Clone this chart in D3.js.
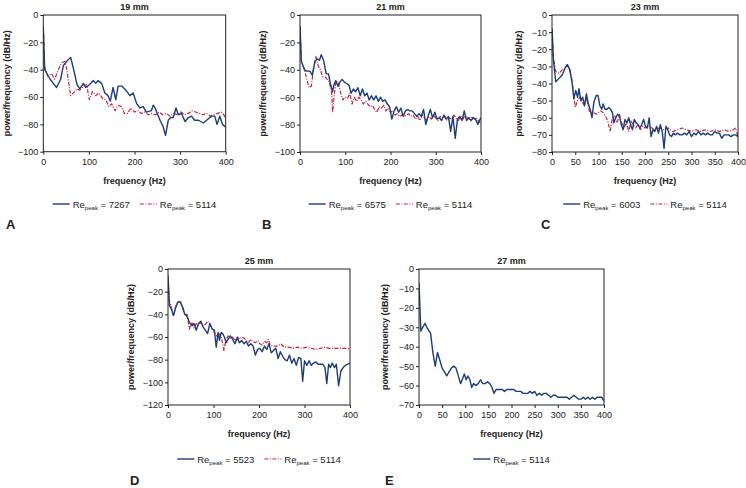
<!DOCTYPE html>
<html lang="en">
<head>
<meta charset="UTF-8">
<title>Power spectra by position</title>
<style>
    body { margin: 0; background: #fff; }
    svg text { font-family: "Liberation Sans", Arial, sans-serif; fill: #222; }
    .tick text { font-size: 9px; }
    .tick line { stroke: #222; }
    .title, .xlabel, .ylabel { font-size: 9px; font-weight: bold; }
    .letter { font-size: 13px; font-weight: bold; }
    .legend text { font-size: 9.5px; }
</style>
</head>
<body>
<div id="chart"></div>
<script src="https://d3js.org/d3.v7.min.js"></script>
<script>
// [frequency Hz, dB/Hz]
const re7267 = [[0,-9],[3,-40],[15,-47],[22,-50],[29,-53],[38,-47],[44,-37],[51,-34],[60,-31],[66,-39],[74,-51],[80,-54],[88,-50],[93,-53],[101,-51],[110,-48],[115,-50],[120,-48],[128,-50],[135,-57],[142,-59],[147,-63],[153,-53],[159,-62],[164,-52],[172,-52],[181,-55],[190,-59],[197,-57],[205,-65],[212,-68],[219,-67],[226,-71],[237,-70],[241,-66],[245,-68],[250,-72],[256,-77],[262,-81],[268,-88],[274,-77],[280,-75],[285,-75],[291,-68],[296,-73],[303,-72],[311,-78],[318,-75],[325,-74],[332,-77],[340,-77],[351,-79],[358,-77],[369,-74],[376,-74],[381,-80],[387,-74],[393,-80],[400,-82]];
const refA = [[0,-8],[3,-38],[10,-45],[18,-43],[25,-47],[33,-40],[40,-35],[47,-34],[51,-39],[60,-59],[66,-57],[74,-54],[80,-55],[88,-52],[95,-51],[101,-62],[108,-56],[115,-59],[122,-57],[130,-61],[137,-62],[144,-67],[150,-65],[157,-70],[164,-66],[171,-67],[178,-72],[185,-72],[192,-68],[200,-71],[208,-70],[215,-72],[222,-71],[230,-73],[238,-72],[246,-73],[254,-71],[262,-73],[270,-72],[278,-74],[286,-72],[294,-73],[302,-71],[310,-73],[318,-72],[326,-70],[334,-71],[342,-72],[350,-73],[358,-72],[366,-74],[374,-73],[382,-72],[390,-71],[396,-73],[400,-76]];

const re6575 = [[0,-8.5],[3,-34],[10,-40],[15,-41],[22,-41],[27,-44],[33,-34],[38,-32],[43,-33],[47,-29],[52,-33],[58,-43],[63,-43],[67,-50],[72,-56],[75,-51],[79,-48],[84,-52],[88,-49],[93,-47],[98,-49],[103,-50],[108,-51],[113,-57],[118,-54],[123,-56],[128,-53],[133,-59],[138,-54],[143,-59],[148,-57],[153,-62],[158,-59],[163,-62],[168,-59],[173,-63],[178,-60],[183,-63],[188,-62],[193,-65],[198,-67],[203,-76],[208,-70],[213,-67],[218,-71],[223,-68],[228,-74],[233,-70],[238,-69],[243,-70],[248,-70],[253,-72],[258,-74],[263,-72],[268,-74],[273,-69],[278,-80],[283,-74],[288,-69],[293,-75],[298,-71],[303,-76],[308,-75],[313,-77],[318,-73],[323,-76],[328,-74],[333,-85],[338,-74],[343,-90],[348,-76],[353,-74],[358,-77],[363,-70],[368,-77],[373,-75],[378,-77],[383,-75],[388,-76],[393,-80],[398,-76],[400,-75]];
const refB = [[0,-8],[3,-33],[10,-40],[15,-47],[20,-53],[25,-52],[30,-39],[35,-30],[40,-37],[45,-40],[50,-45],[55,-45],[60,-47],[65,-49],[70,-57],[72,-71],[76,-57],[80,-48],[85,-50],[90,-57],[95,-62],[100,-60],[105,-61],[110,-57],[115,-65],[120,-60],[125,-63],[130,-60],[135,-62],[140,-65],[145,-63],[150,-65],[155,-67],[160,-66],[165,-69],[170,-71],[175,-67],[180,-68],[185,-66],[190,-70],[195,-68],[200,-71],[205,-70],[210,-73],[215,-72],[220,-74],[225,-73],[230,-74],[235,-73],[240,-72],[245,-74],[250,-73],[255,-76],[260,-74],[265,-77],[270,-73],[275,-75],[280,-77],[285,-74],[290,-76],[295,-73],[300,-75],[305,-77],[310,-74],[315,-76],[320,-74],[325,-77],[330,-75],[335,-76],[340,-73],[345,-75],[350,-77],[355,-74],[360,-76],[365,-73],[370,-75],[375,-76],[380,-74],[385,-76],[390,-75],[395,-78],[400,-79]];

const re6003 = [[0,-8],[3,-26],[8,-39],[15,-37],[22,-35],[28,-31],[33,-29],[38,-32],[43,-39],[47,-49],[51,-44],[55,-48],[58,-43],[62,-50],[66,-48],[70,-53],[74,-46],[78,-52],[82,-55],[86,-60],[90,-51],[95,-47],[99,-47],[103,-53],[107,-55],[110,-52],[114,-55],[118,-55],[122,-54],[126,-55],[130,-57],[133,-63],[137,-60],[141,-58],[145,-59],[149,-64],[153,-67],[157,-61],[161,-63],[165,-60],[169,-64],[173,-67],[177,-61],[181,-63],[185,-64],[189,-66],[193,-64],[197,-61],[201,-65],[205,-66],[209,-60],[213,-71],[217,-67],[221,-68],[225,-65],[229,-69],[233,-64],[237,-68],[241,-78],[245,-65],[249,-67],[253,-70],[257,-71],[261,-69],[265,-70],[270,-69],[275,-70],[280,-70],[285,-69],[290,-70],[295,-68],[300,-71],[305,-69],[310,-70],[315,-68],[320,-70],[325,-69],[330,-70],[335,-69],[340,-70],[345,-70],[350,-68],[355,-69],[360,-69],[365,-72],[370,-70],[375,-70],[380,-70],[385,-71],[390,-70],[395,-70],[400,-71]];
const refC = [[0,-8],[3,-25],[8,-33],[15,-34],[22,-32],[28,-31],[33,-29],[38,-31],[42,-36],[46,-45],[50,-54],[55,-50],[60,-48],[65,-51],[70,-53],[75,-48],[80,-56],[85,-57],[90,-57],[95,-58],[100,-57],[105,-56],[110,-57],[115,-59],[120,-62],[125,-68],[130,-60],[135,-59],[140,-63],[145,-58],[150,-63],[155,-66],[160,-63],[165,-68],[170,-62],[175,-64],[180,-66],[185,-64],[190,-67],[195,-65],[200,-66],[210,-65],[220,-67],[230,-66],[240,-67],[250,-66],[260,-68],[270,-67],[280,-66],[290,-67],[300,-68],[310,-67],[320,-68],[330,-67],[340,-68],[350,-67],[360,-68],[370,-67],[380,-68],[390,-67],[395,-66],[400,-71]];

const re5523 = [[0,-7],[3,-32],[7,-35],[12,-41],[17,-34],[22,-29],[27,-29],[32,-34],[37,-40],[42,-42],[47,-47],[52,-50],[57,-48],[62,-54],[67,-48],[72,-46],[77,-51],[82,-54],[87,-57],[92,-48],[97,-53],[102,-54],[106,-69],[110,-56],[113,-63],[117,-56],[120,-57],[124,-60],[128,-65],[132,-62],[137,-59],[142,-62],[147,-66],[152,-61],[157,-65],[162,-63],[167,-66],[172,-64],[177,-68],[182,-66],[187,-68],[192,-76],[197,-71],[202,-70],[207,-73],[212,-68],[217,-71],[222,-66],[227,-74],[232,-72],[237,-70],[242,-79],[247,-73],[252,-77],[257,-80],[262,-81],[267,-76],[272,-83],[277,-79],[282,-85],[287,-78],[292,-79],[296,-99],[300,-81],[305,-85],[310,-81],[315,-85],[320,-83],[325,-82],[330,-84],[335,-84],[340,-84],[345,-87],[349,-101],[353,-84],[357,-87],[361,-83],[366,-87],[370,-84],[375,-103],[380,-90],[385,-87],[390,-85],[395,-84],[400,-83]];
const refD = [[0,-5],[3,-28],[8,-35],[12,-41],[17,-33],[22,-29],[27,-29],[32,-33],[37,-40],[42,-40],[47,-53],[52,-47],[57,-52],[62,-48],[67,-50],[72,-47],[77,-50],[82,-49],[87,-46],[92,-49],[97,-52],[102,-56],[107,-59],[112,-57],[117,-60],[123,-72],[127,-63],[132,-59],[137,-61],[142,-60],[147,-63],[152,-60],[157,-62],[162,-60],[167,-61],[172,-63],[177,-65],[182,-62],[187,-64],[192,-65],[197,-63],[202,-66],[207,-67],[212,-64],[217,-65],[220,-62],[225,-67],[230,-68],[240,-68],[248,-66],[255,-69],[265,-69],[275,-70],[285,-69],[295,-70],[305,-69],[315,-70],[325,-71],[335,-70],[345,-69],[355,-70],[365,-70],[375,-70],[385,-70],[395,-70],[400,-71]];

const re5114 = [[0,-7],[4,-32],[8,-30],[13,-28],[17,-30],[22,-32],[25,-33],[30,-43],[35,-50],[40,-43],[45,-47],[50,-51],[55,-53],[60,-55],[65,-53],[70,-51],[75,-50],[80,-51],[85,-55],[90,-59],[95,-56],[98,-54],[102,-57],[106,-55],[110,-57],[114,-61],[118,-59],[123,-60],[128,-59],[133,-57],[138,-59],[143,-59],[148,-58],[153,-59],[158,-61],[162,-64],[167,-62],[172,-62],[180,-62],[185,-63],[190,-62],[195,-62],[200,-62],[205,-62],[210,-63],[215,-63],[220,-63],[225,-64],[230,-64],[235,-64],[240,-63],[245,-64],[250,-63],[255,-65],[260,-64],[265,-65],[270,-64],[275,-64],[280,-65],[285,-66],[290,-65],[295,-65],[300,-66],[305,-66],[310,-66],[315,-66],[320,-66],[325,-67],[330,-66],[335,-65],[340,-66],[345,-67],[350,-67],[355,-66],[360,-67],[365,-66],[370,-67],[375,-66],[380,-67],[385,-66],[390,-66],[395,-66],[400,-68]];

const titles = ["19 mm", "21 mm", "23 mm", "25 mm", "27 mm"];
const letters = ["A", "B", "C", "D", "E"];
const reLabels = ["7267", "6575", "6003", "5523", "5114"];

const blue = "#1d3c78", red = "#c4213d";

const svg = d3.select("#chart").append("svg")
    .attr("width", 746)
    .attr("height", 488);

const panels = [
    { box: [43.3, 225.7, 15, 151.7], ymin: -100, ystep: 20, xstep: 100, labelX: 7, legendY: 204, letter: [6, 224],
      series: [{ data: re7267, color: blue, name: reLabels[0] }, { data: refA, color: red, dash: true, name: "5114" }] },
    { box: [300, 481, 15, 152], ymin: -100, ystep: 20, xstep: 100, labelX: 263, legendY: 204, letter: [262, 224],
      series: [{ data: re6575, color: blue, name: reLabels[1] }, { data: refB, color: red, dash: true, name: "5114" }] },
    { box: [552, 738, 15, 152], ymin: -80, ystep: 10, xstep: 50, labelX: 519, legendY: 204, letter: [541, 224],
      series: [{ data: re6003, color: blue, name: reLabels[2] }, { data: refC, color: red, dash: true, name: "5114" }] },
    { box: [168, 350, 269, 405], ymin: -120, ystep: 20, xstep: 100, labelX: 131, legendY: 459, letter: [130, 480],
      series: [{ data: re5523, color: blue, name: reLabels[3] }, { data: refD, color: red, dash: true, name: "5114" }] },
    { box: [419, 604, 269, 405], ymin: -70, ystep: 10, xstep: 50, labelX: 385, legendY: 459, letter: [385, 480],
      series: [{ data: re5114, color: blue, name: reLabels[4] }] }
];

panels.forEach((p, i) => {
    const [x0, x1, y0, y1] = p.box;
    const x = d3.scaleLinear().domain([0, 400]).range([x0, x1]);
    const y = d3.scaleLinear().domain([p.ymin, 0]).range([y1, y0]);
    const g = svg.append("g");

    const clipId = "clip" + i;
    g.append("clipPath").attr("id", clipId)
        .append("rect").attr("x", x0).attr("y", y0 - 1).attr("width", x1 - x0).attr("height", y1 - y0 + 2);

    const line = d3.line().x(d => x(d[0])).y(d => y(d[1]));
    // reference series drawn first so the blue one sits on top
    p.series.slice().reverse().forEach(s => {
        g.append("path")
            .datum(s.data)
            .attr("clip-path", `url(#${clipId})`)
            .attr("fill", "none")
            .attr("stroke", s.color)
            .attr("stroke-width", s.dash ? 1.2 : 1.4)
            .attr("stroke-linejoin", "round")
            .attr("stroke-dasharray", s.dash ? "4,1.5,1,1.5" : null)
            .attr("d", line);
    });

    g.append("rect")
        .attr("x", x0).attr("y", y0)
        .attr("width", x1 - x0).attr("height", y1 - y0)
        .attr("fill", "none").attr("stroke", "#222").attr("stroke-width", 1);

    g.append("g")
        .attr("transform", `translate(${x0},0)`)
        .call(d3.axisLeft(y).tickValues(d3.range(p.ymin, 0.1, p.ystep)).tickSize(3).tickPadding(2))
        .call(a => a.select(".domain").remove())
        .call(a => a.selectAll("text").attr("fill", "#222"));

    g.append("g")
        .attr("transform", `translate(0,${y1})`)
        .call(d3.axisBottom(x).tickValues(d3.range(0, 400.1, p.xstep)).tickSize(3).tickPadding(4))
        .call(a => a.select(".domain").remove())
        .call(a => a.selectAll("text").attr("fill", "#222"));

    g.append("text").attr("class", "title")
        .attr("x", (x0 + x1) / 2).attr("y", y0 - 5)
        .attr("text-anchor", "middle").text(titles[i]);

    g.append("text").attr("class", "xlabel")
        .attr("x", (x0 + x1) / 2).attr("y", y1 + 32)
        .attr("text-anchor", "middle").text("frequency (Hz)");

    g.append("text").attr("class", "ylabel")
        .attr("transform", `translate(${p.labelX + 3},${(y0 + y1) / 2}) rotate(-90)`)
        .attr("text-anchor", "middle").text("power/frequency (dB/Hz)");

    g.append("text").attr("class", "letter")
        .attr("x", p.letter[0]).attr("y", p.letter[1] + 5)
        .text(letters[i]);

    // legend, centred under the plot
    const leg = g.append("g").attr("class", "legend");
    let cx = 0;
    p.series.forEach((s, k) => {
        if (k > 0) cx += 10;
        leg.append("line")
            .attr("x1", cx).attr("x2", cx + 17)
            .attr("y1", 0).attr("y2", 0)
            .attr("stroke", s.color).attr("stroke-width", s.dash ? 1.2 : 1.4)
            .attr("stroke-dasharray", s.dash ? "4,1.5,1,1.5" : null);
        cx += 20;
        const t = leg.append("text").attr("x", cx).attr("y", 3.5);
        t.append("tspan").text("Re");
        t.append("tspan").attr("dy", 2).style("font-size", "6px").text("peak");
        t.append("tspan").attr("dy", -2).text(" = " + s.name);
        cx += t.node().getComputedTextLength();
    });
    leg.attr("transform", `translate(${(x0 + x1) / 2 - cx / 2},${p.legendY})`);
});
</script>
</body>
</html>
